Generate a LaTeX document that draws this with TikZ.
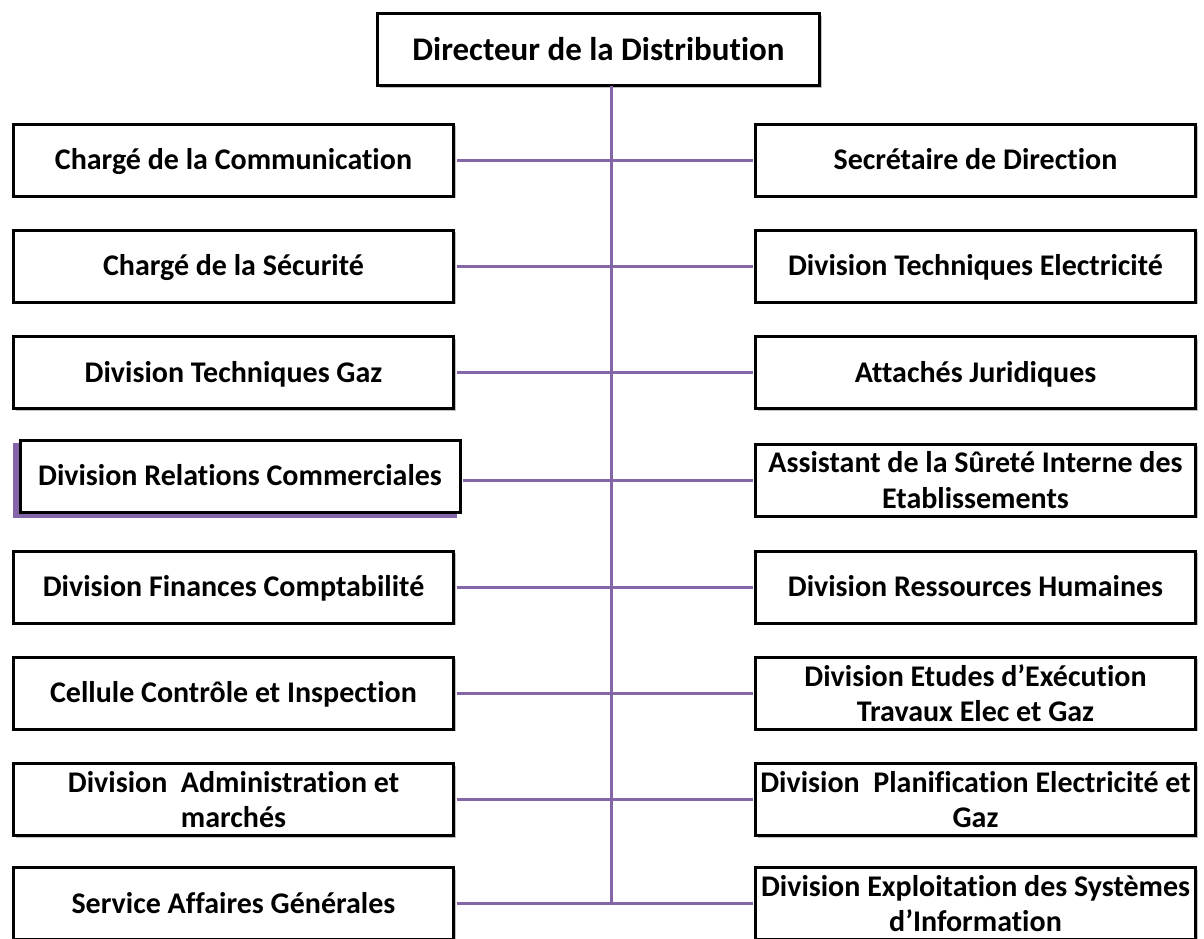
\documentclass[tikz,border=0pt]{standalone}
\usepackage{fontspec}
\setmainfont{Carlito}[Ligatures=NoCommon]
\usetikzlibrary{shadows}
\definecolor{linkpurple}{RGB}{132,102,168}
\definecolor{boxshadow}{RGB}{150,150,150}
\tikzset{
  orgbox/.style={draw=black, line width=3pt, fill=white, inner sep=0pt,
    minimum width=440pt, minimum height=72pt, align=center,
    font=\bfseries\fontsize{30}{35.5}\selectfont,
    drop shadow={shadow xshift=2pt, shadow yshift=-2pt, fill=boxshadow, opacity=0.6}},
  oneline/.style={text height=23pt, text depth=4pt},
  link/.style={draw=linkpurple, line width=3pt}
}
\begin{document}
\begin{tikzpicture}[x=1pt, y=-1pt]
\useasboundingbox (0,0) rectangle (1204,938);
\clip (0,0) rectangle (1204,938);

% ends of the vertical trunk
\coordinate (trunkTop) at (611,86);
\coordinate (trunkEnd) at (611,903.5);

% top of the chart
\node[orgbox, text height=25pt, text depth=4pt, minimum width=442pt, font=\bfseries\fontsize{33}{38}\selectfont] (top) at (598.5,49.5) {Directeur de la Distribution};

% left column
\node[orgbox, oneline] (L1) at (233.5,160) {Chargé de la Communication};
\node[orgbox, oneline] (L2) at (233.5,266) {Chargé de la Sécurité};
\node[orgbox, oneline] (L3) at (233.5,372.5) {Division Techniques Gaz};
\fill[linkpurple] (13,443) rectangle (457,518);
\node[orgbox, oneline] (L4) at (240,476) {Division Relations Commerciales};
\node[orgbox, oneline] (L5) at (233.5,587) {Division Finances Comptabilité};
\node[orgbox, oneline] (L6) at (233.5,693) {Cellule Contrôle et Inspection};
\node[orgbox] (L7) at (233.5,799.5) {Division\ \ Administration et\\marchés};
\node[orgbox, oneline] (L8) at (233.5,903.5) {Service Affaires Générales};

% right column
\node[orgbox, oneline] (R1) at (975.5,160) {Secrétaire de Direction};
\node[orgbox, oneline] (R2) at (975.5,266) {Division Techniques Electricité};
\node[orgbox, oneline] (R3) at (975.5,372.5) {Attachés Juridiques};
\node[orgbox] (R4) at (975.5,480) {Assistant de la Sûreté Interne des\\Etablissements};
\node[orgbox, oneline] (R5) at (975.5,587) {Division Ressources Humaines};
\node[orgbox] (R6) at (975.5,693) {Division Etudes d’Exécution\\Travaux Elec et Gaz};
\node[orgbox] (R7) at (975.5,799.5) {Division\ \ Planification Electricité et\\Gaz};
\node[orgbox] (R8) at (975.5,903.5) {Division Exploitation des Systèmes\\d’Information};

% connectors
\draw[link] (trunkTop) -- (trunkEnd);
\foreach \i in {1,2,3,5,6,7,8} {
  \draw[link] ([xshift=1.5pt]L\i.east) -- ([xshift=-1.5pt]R\i.west);
}
\draw[link] ([xshift=1.5pt]L4.east |- R4.west) -- ([xshift=-1.5pt]R4.west);
\end{tikzpicture}
\end{document}
